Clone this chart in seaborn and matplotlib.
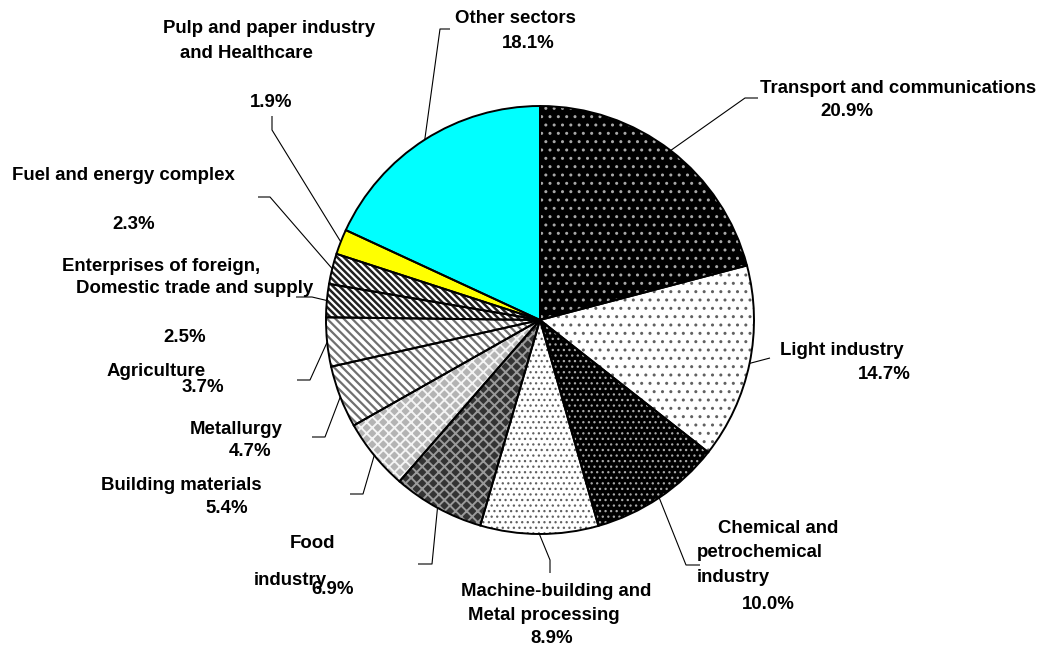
import numpy as np
import matplotlib
matplotlib.use("Agg")
import matplotlib.pyplot as plt
import seaborn as sns

# shares of investment by sector, clockwise from 12 o'clock
sectors = ["Transport and communications", "Light industry",
           "Chemical and petrochemical industry",
           "Machine-building and Metal processing", "Food industry",
           "Building materials", "Metallurgy", "Agriculture",
           "Enterprises of foreign, Domestic trade and supply",
           "Fuel and energy complex",
           "Pulp and paper industry and Healthcare", "Other sectors"]
shares = [20.9, 14.7, 10.0, 8.9, 6.9, 5.4, 4.7, 3.7, 2.5, 2.3, 1.9, 18.1]

face_colors = ["#000000", "#ffffff", "#000000", "#ffffff", "#333333", "#b4b4b4",
               "#ffffff", "#ffffff", "#ffffff", "#ffffff", "#ffff00", "#00ffff"]
hatches = ["..", "..", "...", "...", "xxx", "xxx",
           "\\\\\\\\", "\\\\\\\\", "\\\\\\\\\\", "\\\\\\\\\\", "", ""]
hatch_colors = ["#a8a8a8", "#606060", "#a8a8a8", "#606060", "#9a9a9a", "#f4f4f4",
                "#707070", "#707070", "#202020", "#202020", "none", "none"]
hatch_widths = [1.0, 1.0, 0.9, 0.9, 1.4, 1.4, 1.6, 1.6, 1.8, 1.8, 1.0, 1.0]

# label lines as they are broken in the chart: (text, left x, baseline y)
label_lines = [
    [("Transport and communications", 760, 93), ("{}", 820, 116)],
    [("Light industry", 780, 355), ("{}", 858, 379)],
    [("Chemical and", 718, 533), ("petrochemical", 697, 557), ("industry", 697, 582), ("{}", 742, 609)],
    [("Machine-building and", 461, 596), ("Metal processing", 468, 620), ("{}", 530, 643)],
    [("Food", 290, 548), ("industry", 254, 585), ("{}", 311, 594)],
    [("Building materials", 101, 490), ("{}", 205, 513)],
    [("Metallurgy", 190, 434), ("{}", 229, 456)],
    [("Agriculture", 107, 376), ("{}", 182, 392)],
    [("Enterprises of foreign,", 62, 271), ("Domestic trade and supply", 76, 293), ("{}", 163, 342)],
    [("Fuel and energy complex", 12, 180), ("{}", 112, 229)],
    [("Pulp and paper industry", 163, 33), ("and Healthcare", 180, 58), ("{}", 250, 107)],
    [("Other sectors", 455, 23), ("{}", 502, 48)],
]
# leader line bends (pixel positions), the last point is on the rim
leader_bends = [
    [(758, 98), (745, 98)],
    [(770, 358)],
    [(700, 565), (686, 565)],
    [(550, 573), (550, 560)],
    [(418, 564), (432, 564)],
    [(350, 494), (363, 494)],
    [(312, 437), (325, 437)],
    [(297, 380), (310, 380)],
    [(296, 297), (312, 297)],
    [(258, 197), (270, 197)],
    [(272, 116), (272, 130)],
    [(450, 29), (440, 29)],
]

W, H = 1043, 648
sns.set_theme(style="white")
plt.rcParams["font.family"] = ["Liberation Sans", "DejaVu Sans"]
plt.rcParams["hatch.linewidth"] = 1.6

fig = plt.figure(figsize=(W / 100, H / 100), dpi=100)
ax = fig.add_axes([0, 0, 1, 1])

cx, cy, r = 540, 320, 214

# fill + hatch layer
wedges, _ = ax.pie(shares, colors=face_colors, startangle=-90, counterclock=True,
                   center=(cx, cy), radius=r, frame=True,
                   wedgeprops=dict(linewidth=0))
for w, h, hc, hw in zip(wedges, hatches, hatch_colors, hatch_widths):
    if h:
        w.set_hatch(h)
        w.set_edgecolor(hc)
        if hasattr(w, "set_hatch_linewidth"):
            w.set_hatch_linewidth(hw)
# outline layer
ax.pie(shares, startangle=-90, counterclock=True, center=(cx, cy), radius=r,
       frame=True, wedgeprops=dict(fill=False, edgecolor="black", linewidth=1.4))
ax.set_xlim(0, W)
ax.set_ylim(H, 0)
ax.set_aspect("equal")
ax.axis("off")

for w, val, lines, bends in zip(wedges, shares, label_lines, leader_bends):
    mid = np.deg2rad((w.theta1 + w.theta2) / 2)
    rim = (cx + r * np.cos(mid), cy + r * np.sin(mid))
    pts = bends + [rim]
    ax.plot([p[0] for p in pts], [p[1] for p in pts], color="black", lw=0.8,
            solid_capstyle="butt")
    for txt, x, y in lines:
        ax.text(x, y, txt.format(f"{val:.1f}%"), ha="left", va="baseline",
                fontsize=13.4, fontweight="bold", color="black")

fig.savefig("out.png", dpi=100)
